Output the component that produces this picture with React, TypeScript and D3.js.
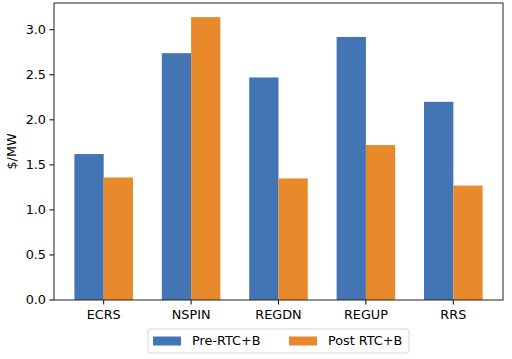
import * as d3 from 'd3'

const categories = ['ECRS', 'NSPIN', 'REGDN', 'REGUP', 'RRS']
const preValues = [1.62, 2.74, 2.47, 2.92, 2.2]
const postValues = [1.36, 3.14, 1.35, 1.72, 1.27]
const seriesNames = ['Pre-RTC+B', 'Post RTC+B']
const yTicks = [0, 0.5, 1, 1.5, 2, 2.5, 3]

const width = 512,
      height = 359,
      margin = { top: 3, right: 9, bottom: 59, left: 54 },
      innerWidth = width - margin.left - margin.right,
      innerHeight = height - margin.top - margin.bottom,
      barW = 0.335,
      colors = ['#4374b3', '#e8892b'],
      font = 'DejaVu Sans, sans-serif',
      fontSize = 12.8

export default function App() {
  // matplotlib-style limits: 5% padding around the data extent
  const span = categories.length - 1 + 2 * barW
  const pad = span * 0.05
  const x = d3.scaleLinear()
    .domain([-barW - pad, categories.length - 1 + barW + pad])
    .range([0, innerWidth])

  const yMax = d3.max(postValues.concat(preValues)) * 1.05
  const y = d3.scaleLinear().domain([0, yMax]).range([innerHeight, 0])

  const series = [preValues, postValues]

  return (
    <svg width={width} height={height}
      style={{ position: 'absolute', left: 0, top: 0, background: '#fff' }}
      fontFamily={font}>
      <g transform={`translate(${margin.left},${margin.top})`}>
        {series.map((vals, s) =>
          vals.map((v, i) => {
            const x0 = x(i + (s === 0 ? -barW : 0))
            const x1 = x(i + (s === 0 ? 0 : barW))
            return (
              <rect key={`${s}-${i}`} x={x0} y={y(v)} width={x1 - x0}
                height={innerHeight - y(v)} fill={colors[s]} />
            )
          })
        )}

        {/* y axis */}
        {yTicks.map(t => (
          <g key={t} transform={`translate(0,${y(t)})`}>
            <line x1={-4.5} x2={0} stroke='#000' strokeWidth={1} />
            <text x={-8} dy='0.35em' textAnchor='end' fontSize={fontSize} fill='#000'>
              {t.toFixed(1)}
            </text>
          </g>
        ))}
        <text transform={`translate(${12 - margin.left},${innerHeight / 2}) rotate(-90)`}
          textAnchor='middle' dy='0.35em' fontSize={fontSize} fill='#000'>$/MW</text>

        {/* x axis */}
        {categories.map((c, i) => (
          <g key={c} transform={`translate(${x(i)},${innerHeight})`}>
            <line y1={0} y2={4.5} stroke='#000' strokeWidth={1} />
            <text y={19} textAnchor='middle' fontSize={fontSize} fill='#000'>{c}</text>
          </g>
        ))}

        <rect x={0} y={0} width={innerWidth} height={innerHeight}
          fill='none' stroke='#222' strokeWidth={1} />
      </g>

      {/* legend */}
      <g transform='translate(148,329)'>
        <rect x={0} y={0} width={261} height={24} rx={3}
          fill='#fff' stroke='#d6d6d6' strokeWidth={1} />
        {seriesNames.map((n, i) => (
          <g key={n} transform={`translate(${5 + i * 136},12)`}>
            <rect x={0} y={-4.5} width={28} height={9} fill={colors[i]} />
            <text x={39} dy='0.35em' fontSize={fontSize} fill='#000'>{n}</text>
          </g>
        ))}
      </g>
    </svg>
  )
}
